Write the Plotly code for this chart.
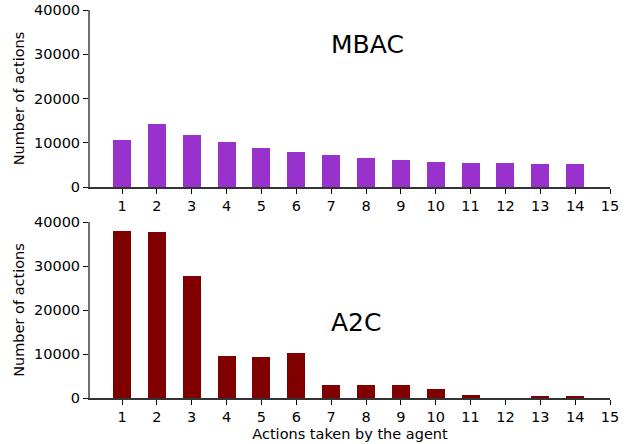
import plotly.graph_objects as go

actions = list(range(1, 15))
mbac_counts = [10600, 14200, 11700, 10100, 8750, 7850, 7150, 6500, 6050, 5600, 5350, 5350, 5150, 5150]
a2c_counts = [37900, 37650, 27700, 9600, 9350, 10250, 3000, 3000, 3000, 2100, 750, 0, 500, 500]
x_ticks = list(range(1, 16))
y_ticks = [0, 10000, 20000, 30000, 40000]
y_tick_labels = ["0", "10000", "20000", "30000", "40000"]

FONT = "DejaVu Sans"

fig = go.Figure()
fig.add_trace(go.Bar(x=actions, y=mbac_counts, width=0.52, marker=dict(color="#9932CC", line=dict(width=0)),
                     xaxis="x", yaxis="y", showlegend=False))
fig.add_trace(go.Bar(x=actions, y=a2c_counts, width=0.52, marker=dict(color="#800000", line=dict(width=0)),
                     xaxis="x2", yaxis="y2", showlegend=False))

xcommon = dict(range=[0.082, 15], tickvals=x_ticks, ticks="outside", ticklen=5, tickwidth=1, tickcolor="black",
               showline=True, linecolor="#333333", linewidth=1.5, showgrid=False, zeroline=False, automargin=False,
               tickfont=dict(family=FONT, size=14.5, color="black"))
ycommon = dict(range=[0, 40000], tickvals=y_ticks, ticktext=y_tick_labels, ticks="outside", ticklen=5, tickwidth=1,
               tickcolor="black", showline=True, linecolor="#707070", linewidth=2, showgrid=False, zeroline=False,
               automargin=False, tickfont=dict(family=FONT, size=14.5, color="black"),
               title=dict(text="Number of actions", font=dict(family=FONT, size=14.5, color="black"), standoff=6))

fig.update_layout(
    width=628, height=444,
    margin=dict(l=90, r=18, t=10, b=46),
    paper_bgcolor="white", plot_bgcolor="white",
    font=dict(family=FONT, color="black"),
    xaxis=dict(domain=[0, 1], anchor="y", **xcommon),
    yaxis=dict(domain=[0.5438, 1], anchor="x", **ycommon),
    xaxis2=dict(domain=[0, 1], anchor="y2",
                title=dict(text="Actions taken by the agent", font=dict(family=FONT, size=14.5, color="black"), standoff=5),
                **xcommon),
    yaxis2=dict(domain=[0, 0.4536], anchor="x2", **ycommon),
    bargap=0,
    annotations=[
        dict(text="MBAC", x=7, y=30000, xref="x", yref="y", xanchor="left", yanchor="bottom",
             showarrow=False, font=dict(family=FONT, size=25, color="black"), yshift=-7, xshift=-2),
        dict(text="A2C", x=7, y=15000, xref="x2", yref="y2", xanchor="left", yanchor="bottom",
             showarrow=False, font=dict(family=FONT, size=25, color="black"), yshift=-7, xshift=-2),
    ],
)

fig.write_html("out.html", config={"displayModeBar": False},
               post_script="document.body.style.margin='0';document.body.style.overflow='hidden';")
